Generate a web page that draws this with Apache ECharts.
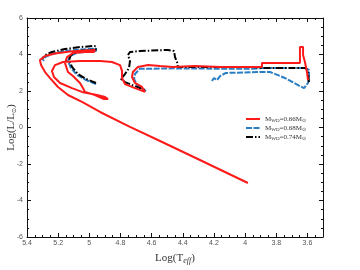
<!DOCTYPE html>
<html><head><meta charset="utf-8">
<script src="https://cdn.jsdelivr.net/npm/echarts@6/dist/echarts.min.js"></script>
<style>html,body{margin:0;padding:0;background:#fff}#c{width:360px;height:270px}</style>
</head><body><div id="c"></div>
<script>
// Series names (legend)
const seriesNames = ['M_WD=0.66', 'M_WD=0.68', 'M_WD=0.74'];
// Tick labels
const xMajorTicks = [5.4, 5.2, 5.0, 4.8, 4.6, 4.4, 4.2, 4.0, 3.8, 3.6];
// M_WD = 0.66 (red) : log Teff and log L/Lsun
const redT = [3.596,3.603,3.616,3.628,3.628,3.648,3.648,3.892,3.892,4.161,4.322,4.463,4.546,4.623,4.688,4.720,4.726,4.707,4.662,4.643,
  4.707,4.771,4.790,4.790,4.803,4.854,4.931,5.060,5.169,5.220,5.240,5.227,5.188,5.111,5.047,4.951,4.899,4.880,4.906,4.964,5.028,
  5.041,5.060,5.105,5.137,5.156,5.143,5.105,5.028,4.970,4.964,5.028,5.124,5.220,5.284,5.317,5.310,5.284,5.252,5.201,5.137,5.047,4.931,4.739,4.546,4.290,3.982];
const redL = [2.60,3.04,3.59,3.97,4.41,4.41,3.53,3.53,3.32,3.32,3.37,3.32,3.37,3.42,3.32,3.04,2.77,2.44,2.22,1.95,
  2.16,2.38,2.71,3.10,3.42,3.59,3.64,3.64,3.59,3.42,3.10,2.77,2.44,2.16,1.95,1.78,1.67,1.56,1.56,1.78,1.95,
  2.16,2.44,2.82,3.04,3.53,3.86,4.08,4.14,4.14,4.25,4.22,4.16,4.05,3.92,3.70,3.42,3.04,2.71,2.22,1.78,1.40,0.85,0.03,-0.74,-1.78,-3.04];
// M_WD = 0.68 (blue)
const blueT = [4.213,4.200,4.180,4.161,4.123,3.904,3.840,3.744,3.648,3.622,3.596,3.590,3.590,3.616,3.892,3.95,4.161,4.450,4.611,4.675,4.707,4.713,4.694,4.636,
  null,4.957,5.021,5.079,5.118,5.137,5.124,5.073,4.957,4.957,5.060,5.156,5.240,5.284,5.297];
const blueL = [2.55,2.71,2.60,2.82,2.99,3.04,3.04,2.71,2.27,2.16,2.44,2.82,3.15,3.26,3.26,3.22,3.22,3.24,3.22,3.22,2.93,2.66,2.33,2.00,
  null,2.38,2.60,2.88,3.26,3.64,3.92,4.11,4.19,4.33,4.27,4.19,4.03,3.86,3.64];
// M_WD = 0.74 (black)
const blackT = [3.590,3.596,3.609,3.648,3.892,3.95,4.290,4.431,4.437,4.450,4.456,4.495,4.675,4.739,4.752,4.739,4.745,4.771,4.797,4.771,4.707,4.643,
  null,4.957,5.021,5.073,5.111,5.130,5.118,5.073,4.957,4.964,5.060,5.156,5.240,5.284,5.304];
const blackL = [2.49,2.99,3.26,3.26,3.26,3.32,3.32,3.32,3.59,3.86,4.19,4.25,4.19,4.14,3.97,3.64,3.26,2.93,2.66,2.49,2.27,2.05,
  null,2.44,2.66,2.93,3.32,3.70,3.97,4.19,4.27,4.47,4.41,4.30,4.14,3.97,3.75];

const zip = (t, l) => t.map((v, i) => [v, l[i]]);
const chart = echarts.init(document.getElementById('c'), null, {renderer: 'canvas'});
const serif = 'Liberation Serif';
const tickColor = '#111';
const xBase = {type: 'value', min: 3.5, max: 5.4, inverse: true, gridIndex: 0, splitLine: {show: false}};
const xMinor = (pos) => Object.assign({}, xBase, {position: pos, interval: 0.05,
  axisLine: {show: true, onZero: false, lineStyle: {color: '#111', width: 1}},
  axisTick: {show: true, inside: true, length: 2, lineStyle: {color: tickColor}},
  axisLabel: {show: false}});
const xMajor = (pos, labels) => Object.assign({}, xBase, {position: pos,
  axisLine: {show: false, onZero: false},
  axisTick: {show: true, inside: true, length: 4, customValues: xMajorTicks, lineStyle: {color: tickColor}},
  axisLabel: {show: labels, customValues: xMajorTicks, fontSize: 7, color: '#555', margin: 3, fontFamily: 'Liberation Sans'}});
const xLabelAxis = xMajor('bottom', true);
xLabelAxis.name = '{n|Log(T}{s|eff}{n|)}';
xLabelAxis.nameLocation = 'middle';
xLabelAxis.nameGap = 14;
xLabelAxis.nameMoveOverlap = false;
xLabelAxis.nameTextStyle = {rich: {
  n: {fontFamily: serif, fontSize: 11, color: '#333'},
  s: {fontFamily: serif, fontSize: 8, fontStyle: 'italic', color: '#333', verticalAlign: 'bottom', padding: [6, 0, 0, 0]}}};
const yBase = (pos, labels) => ({type: 'value', min: -6, max: 6, interval: 2, position: pos, splitLine: {show: false},
  axisLine: {show: true, onZero: false, lineStyle: {color: '#111', width: 1}},
  axisTick: {show: true, inside: true, length: 4, lineStyle: {color: tickColor}},
  minorTick: {show: true, splitNumber: 4, length: 2, lineStyle: {color: tickColor}},
  axisLabel: {show: labels, fontSize: 7, color: '#555', margin: 4, fontFamily: 'Liberation Sans'}});
const yLeft = yBase('left', true);
yLeft.name = '{n|Log(L/L}{s|⊙}{n|)}';
yLeft.nameLocation = 'middle';
yLeft.nameGap = 10;
yLeft.nameMoveOverlap = false;
yLeft.nameTextStyle = {rich: {
  n: {fontFamily: serif, fontSize: 11, color: '#333'},
  s: {fontFamily: 'DejaVu Sans', fontSize: 6, color: '#333', padding: [6, 0, 0, 0]}}};

const legendLabel = {
  'M_WD=0.66': '{a|M}{s|WD}{a|=0.66M}{s|⊙}',
  'M_WD=0.68': '{a|M}{s|WD}{a|=0.68M}{s|⊙}',
  'M_WD=0.74': '{a|M}{s|WD}{a|=0.74M}{s|⊙}'
};

chart.setOption({
  animation: false,
  backgroundColor: '#fff',
  grid: {left: 27, right: 37, top: 18, bottom: 33, containLabel: false, outerBoundsMode: 'none'},
  xAxis: [xMinor('bottom'), xLabelAxis, xMinor('top'), xMajor('top', false)],
  yAxis: [yLeft, yBase('right', false)],
  legend: {
    data: seriesNames,
    left: 240, top: 110, orient: 'vertical',
    itemWidth: 14, itemHeight: 5, itemGap: 1,
    itemStyle: {color: 'rgba(0,0,0,0)', borderColor: 'rgba(0,0,0,0)', borderWidth: 0, opacity: 0},
    formatter: n => legendLabel[n],
    textStyle: {lineHeight: 8, rich: {
      a: {fontFamily: serif, fontSize: 7, color: '#333', lineHeight: 8},
      s: {fontFamily: serif, fontSize: 5, color: '#333', lineHeight: 8, verticalAlign: 'bottom', padding: [2, 0, 0, 0]}}}
  },
  series: [
    {name: seriesNames[0], type: 'line', data: zip(redT, redL), showSymbol: false, symbol: 'none', z: 5,
      lineStyle: {color: '#ff1a1a', width: 2}, itemStyle: {color: '#ff1a1a'}},
    {name: seriesNames[1], type: 'line', data: zip(blueT, blueL), showSymbol: false, symbol: 'none', z: 3,
      lineStyle: {color: '#2a7fc4', width: 2, type: [6, 1.5]}, itemStyle: {color: '#2a7fc4'}},
    {name: seriesNames[2], type: 'line', data: zip(blackT, blackL), showSymbol: false, symbol: 'none', z: 4,
      lineStyle: {color: '#000', width: 2, type: [7, 2, 1.5, 2]}, itemStyle: {color: '#000'}}
  ]
});
</script></body></html>
